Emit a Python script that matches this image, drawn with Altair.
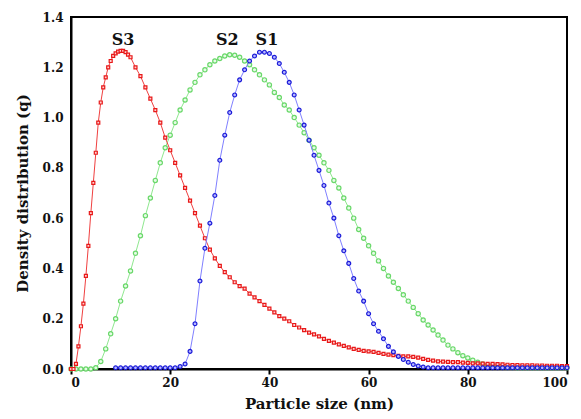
import altair as alt
import pandas as pd

# S3 (red)
s3_x = [0, 0.5, 1, 1.5, 2, 2.5, 3, 3.5, 4, 4.5, 5, 5.5, 6, 6.5, 7, 7.5, 8, 8.5, 9, 9.5, 10, 10.5, 11, 11.5, 12] + list(range(13, 101))
s3_y = [0.0, 0.0, 0.02, 0.09, 0.17, 0.26, 0.37, 0.49, 0.62, 0.74, 0.86, 0.98, 1.06, 1.12, 1.16, 1.20, 1.225, 1.245, 1.255, 1.262, 1.265, 1.265, 1.26, 1.25, 1.24,
        1.20, 1.165, 1.12, 1.075, 1.03, 0.98, 0.92, 0.87, 0.82, 0.77, 0.72, 0.67, 0.62, 0.57, 0.52, 0.475, 0.44, 0.41,
        0.385, 0.365, 0.345, 0.33, 0.32, 0.30, 0.285, 0.27, 0.255, 0.24, 0.225, 0.21, 0.20, 0.19, 0.175, 0.165, 0.155, 0.145,
        0.138, 0.13, 0.12, 0.112, 0.105, 0.098, 0.092, 0.086, 0.08, 0.076, 0.072, 0.07, 0.068, 0.064, 0.06, 0.057, 0.055,
        0.052, 0.05, 0.05, 0.048, 0.045, 0.04, 0.036, 0.033, 0.03, 0.029, 0.028, 0.027, 0.027, 0.025, 0.024, 0.022, 0.022,
        0.021, 0.02, 0.02, 0.019, 0.018, 0.017, 0.016, 0.016, 0.015, 0.015, 0.015, 0.014, 0.014, 0.013, 0.013, 0.013, 0.012, 0.012]

# S2 (green)
s2_x = list(range(0, 101))
s2_y = [0.0, 0.0, 0.0, 0.0, 0.0, 0.005, 0.03, 0.08, 0.14, 0.2, 0.27, 0.33, 0.39, 0.46, 0.53, 0.61, 0.68, 0.75, 0.82, 0.88,
        0.93, 0.98, 1.03, 1.07, 1.11, 1.14, 1.17, 1.19, 1.21, 1.225, 1.235, 1.245, 1.25, 1.248, 1.24, 1.225, 1.21, 1.19, 1.17, 1.15,
        1.13, 1.10, 1.08, 1.05, 1.03, 1.0, 0.97, 0.94, 0.91, 0.88, 0.85, 0.82, 0.79, 0.75, 0.72, 0.68, 0.64, 0.60, 0.555, 0.52,
        0.49, 0.46, 0.43, 0.40, 0.37, 0.345, 0.32, 0.295, 0.27, 0.245, 0.22, 0.195, 0.175, 0.155, 0.135, 0.115, 0.095, 0.08, 0.065, 0.053,
        0.044, 0.035, 0.027, 0.02, 0.014, 0.01, 0.008, 0.007, 0.006, 0.006, 0.005, 0.005, 0.005, 0.005, 0.005, 0.005, 0.005, 0.005, 0.005, 0.005,
        0.005]

# S1 (blue)
s1_x = list(range(9, 101))
s1_y = [0.005, 0.005, 0.005, 0.005, 0.005, 0.005, 0.005, 0.005, 0.005, 0.005, 0.005, 0.005, 0.005, 0.01, 0.02, 0.07, 0.18, 0.35, 0.48,
        0.58, 0.69, 0.83, 0.93, 1.02, 1.09, 1.15, 1.19, 1.225, 1.245, 1.26, 1.26, 1.255, 1.24, 1.215, 1.18, 1.14, 1.09, 1.03, 0.97,
        0.91, 0.85, 0.79, 0.73, 0.66, 0.60, 0.53, 0.47, 0.42, 0.36, 0.31, 0.27, 0.22, 0.18, 0.15, 0.12, 0.09, 0.068, 0.05, 0.038,
        0.027, 0.018, 0.012, 0.008, 0.005, 0.005, 0.005, 0.005, 0.005, 0.005, 0.005, 0.005, 0.005, 0.005, 0.005, 0.005, 0.005, 0.005,
        0.005, 0.005, 0.005, 0.005, 0.005, 0.005, 0.005, 0.005, 0.005, 0.005, 0.005, 0.005, 0.005, 0.005, 0.005]

label_text = ["S3", "S2", "S1"]
label_x = [10.5, 31.5, 39.5]
label_y = [1.31, 1.31, 1.31]

FONT = "DejaVu Serif"

xs = alt.Scale(domain=[0, 100], nice=False)
ys = alt.Scale(domain=[0, 1.4], nice=False)
xaxis = alt.Axis(values=[0, 20, 40, 60, 80, 100], title="Particle size (nm)", grid=False)
yaxis = alt.Axis(values=[0, 0.2, 0.4, 0.6, 0.8, 1.0, 1.2, 1.4], format=".1f", title="Density distribution (q)", grid=False)


def series(xv, yv, line_color, pt_stroke, pt_fill, size, shape="circle"):
    df = pd.DataFrame({"x": xv, "y": yv})
    base = alt.Chart(df).encode(x=alt.X("x:Q", scale=xs, axis=xaxis), y=alt.Y("y:Q", scale=ys, axis=yaxis))
    line = base.mark_line(color=line_color, strokeWidth=1)
    pts = base.mark_point(shape=shape, filled=False, stroke=pt_stroke, fill=pt_fill, fillOpacity=1, strokeWidth=1.2, size=size)
    return line + pts


green = series(s2_x, s2_y, "#8fe88f", "#6ad86a", "#e6fbe6", 18)
red = series(s3_x, s3_y, "#f04040", "#e81818", "#ffd0d0", 9, "square")
blue = series(s1_x, s1_y, "#8080ff", "#1a1ad8", "#b8b8ff", 15)

labels = alt.Chart(pd.DataFrame({"t": label_text, "x": label_x, "y": label_y})).mark_text(
    font=FONT, fontWeight="bold", fontSize=16, color="#111111"
).encode(x=alt.X("x:Q", scale=xs), y=alt.Y("y:Q", scale=ys), text="t:N")

chart = alt.layer(green, red, blue, labels).properties(
    width=496, height=352,
    autosize=alt.AutoSizeParams(type="none"),
    padding={"left": 71, "top": 17, "right": 14, "bottom": 50},
).configure_view(stroke="black", strokeWidth=2).configure_axis(
    domainColor="black", domainWidth=2, tickColor="black", tickWidth=2,
    labelFont=FONT, labelFontWeight="bold", labelFontSize=12, labelColor="#111111",
    titleFont=FONT, titleFontWeight="bold", titleFontSize=15, titleColor="#111111",
).configure_axisX(tickSize=5, labelPadding=3, titlePadding=8).configure_axisY(
    ticks=False, labelPadding=8, titlePadding=12
)

chart.save("out.html", embed_options={"renderer": "svg", "actions": False})
